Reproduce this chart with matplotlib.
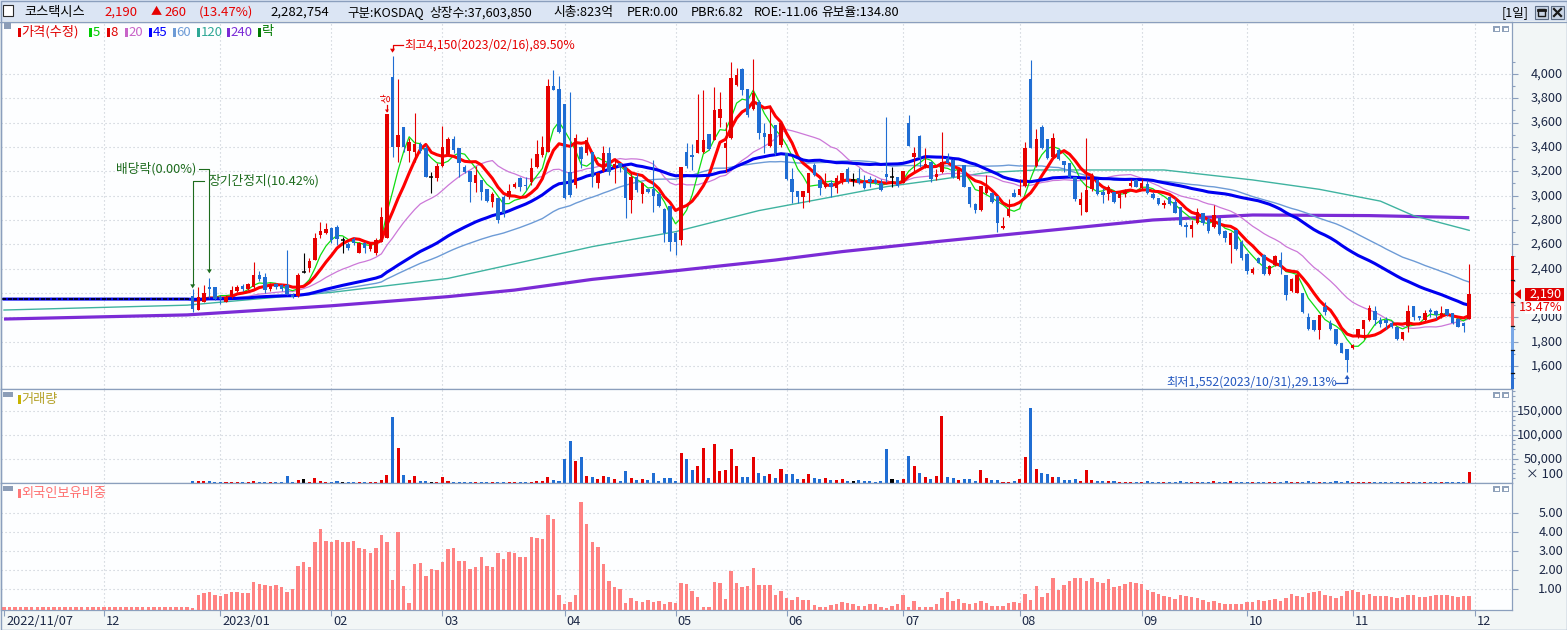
import numpy as np
import pandas as pd
import matplotlib
matplotlib.use('Agg')
import matplotlib.pyplot as plt
from matplotlib.patches import Rectangle, Polygon
import matplotlib.transforms as mtransforms

plt.rcParams['font.family'] = ['Noto Sans CJK KR', 'DejaVu Sans']
plt.rcParams['axes.unicode_minus'] = False

# ======================= DATA =======================
month_idx = [0, 18, 39, 59, 79, 101, 121, 141, 162, 183, 205, 224, 243, 265]
month_lbl = ['2022/11/07', '12', '2023/01', '02', '03', '04', '05', '06',
             '07', '08', '09', '10', '11', '12']

halt_days = 34          # trading suspended (flat dojis) before trading resumed
halt_price = 2150

trade_open = [
    2175, 2060, 2129, 2252, 2246, 2170, 2126, 2175, 2219, 2260,
    2230, 2246, 2345, 2329, 2230, 2274, 2263, 2263, 2186, 2175,
    2375, 2403, 2471, 2677, 2690, 2731, 2745, 2635, 2603, 2641,
    2526, 2608, 2559, 2526, 2622, 2649, 3978, 3400, 3562, 3370,
    3362, 3425, 3389, 3156, 3142, 3244, 3342, 3463, 3389, 3233,
    3205, 3101, 3129, 3055, 2945, 2978, 2992, 2992, 3074, 3142,
    3085, 3115, 3238, 3334, 3362, 3901, 3874, 3753, 3197, 3088,
    3397, 3348, 3362, 3101, 3205, 3348, 3225, 3266, 3238, 2964,
    3156, 3014, 3052, 3052, 3014, 2888, 2915, 2690, 2635, 3362,
    3334, 3348, 3362, 3504, 3458, 3636, 3389, 3471, 3907, 4038,
    3874, 3710, 3773, 3512, 3408, 3581, 3416, 3348, 3134, 3041,
    2992, 3025, 3252, 3129, 3074, 3107, 3060, 3129, 3216, 3129,
    3142, 3115, 3134, 3129, 3101, 3178, 3156, 3151, 3107, 3600,
    3315, 3490, 3233, 3279, 3156, 3197, 3307, 3293, 3134, 3252,
    3074, 2931, 2882, 3025, 3025, 2997, 2731, 2833, 3025, 3005,
    3079, 3956, 3244, 3567, 3463, 3315, 3375, 3288, 3266, 3156,
    2923, 2868, 3052, 3129, 3033, 3014, 3033, 2978, 3014, 3079,
    3129, 3060, 3096, 3014, 2978, 2923, 2986, 2951, 2904, 2759,
    2723, 2772, 2860, 2805, 2745, 2814, 2712, 2594, 2718, 2622,
    2520, 2367, 2485, 2512, 2356, 2430, 2471, 2348, 2219, 2202,
    2202, 2005, 1978, 1896, 2087, 1956, 1901, 1786, 1737, 1745,
    1835, 1901, 1978, 2055, 1978, 1978, 1956, 1923, 1819, 1928,
    2093, 2011, 1978, 2060, 2052, 2011, 2066, 2033, 1983, 1950,
    1983]

trade_high = [
    2230, 2252, 2266, 2320, 2250, 2183, 2183, 2260, 2266, 2274,
    2285, 2457, 2383, 2361, 2279, 2285, 2274, 2553, 2197, 2361,
    2526, 2485, 2696, 2786, 2778, 2745, 2759, 2663, 2622, 2657,
    2622, 2622, 2622, 2649, 2910, 3675, 4150, 3960, 3562, 3471,
    3682, 3444, 3416, 3197, 3266, 3573, 3485, 3490, 3389, 3252,
    3205, 3244, 3129, 3055, 3033, 2978, 3005, 3096, 3115, 3151,
    3156, 3307, 3458, 3490, 3956, 4033, 3984, 3753, 3855, 3507,
    3408, 3479, 3362, 3197, 3408, 3397, 3307, 3271, 3238, 3184,
    3184, 3115, 3060, 3293, 3033, 2896, 2915, 2704, 3233, 3430,
    3425, 3836, 3870, 3504, 3896, 3855, 3608, 4101, 4047, 4045,
    3874, 4125, 3786, 3594, 3745, 3581, 3608, 3348, 3225, 3041,
    3041, 3189, 3271, 3142, 3184, 3129, 3170, 3189, 3238, 3189,
    3225, 3170, 3162, 3142, 3134, 3644, 3238, 3156, 3205, 3663,
    3403, 3499, 3389, 3288, 3216, 3526, 3348, 3299, 3225, 3252,
    3074, 2942, 3079, 3170, 3033, 2997, 2827, 2970, 3052, 3134,
    3444, 4115, 3545, 3581, 3463, 3512, 3389, 3288, 3271, 3156,
    3033, 3471, 3184, 3134, 3060, 3088, 3033, 3033, 3052, 3134,
    3134, 3134, 3129, 3033, 2978, 2964, 2997, 2978, 2904, 2786,
    2800, 2896, 2860, 2827, 2923, 2814, 2718, 2704, 2718, 2635,
    2526, 2411, 2493, 2520, 2430, 2512, 2540, 2348, 2320, 2356,
    2202, 2038, 1978, 2019, 2129, 1978, 1901, 1791, 1737, 1780,
    1901, 1978, 2101, 2093, 2000, 2000, 1972, 1923, 1882, 2101,
    2093, 2011, 2060, 2074, 2060, 2093, 2066, 2033, 1991, 1964,
    2440]

trade_low = [
    2046, 2060, 2129, 2156, 2140, 2107, 2126, 2156, 2211, 2219,
    2225, 2240, 2301, 2203, 2219, 2230, 2219, 2183, 2156, 2170,
    2361, 2375, 2471, 2649, 2682, 2608, 2594, 2526, 2553, 2594,
    2526, 2526, 2548, 2512, 2622, 2649, 3320, 3280, 3362, 3279,
    3279, 3348, 3151, 3019, 3123, 3238, 3334, 3348, 3151, 3184,
    2951, 3033, 2964, 2951, 2910, 2778, 2827, 2970, 3060, 3041,
    3047, 3088, 3225, 3320, 3362, 3868, 3512, 2970, 2992, 3060,
    3225, 3334, 3074, 3060, 3197, 3170, 3101, 3197, 2814, 2855,
    3033, 2937, 3019, 2868, 2910, 2622, 2548, 2512, 2594, 3225,
    3211, 3348, 3348, 3375, 3458, 3562, 3197, 3463, 3901, 3827,
    3650, 3704, 3463, 3348, 3403, 3334, 3403, 3129, 2937, 2937,
    2896, 2951, 3162, 3005, 3060, 2992, 3025, 3096, 3107, 3079,
    3096, 3052, 3074, 3096, 3041, 3115, 3074, 3074, 3101, 3408,
    3205, 3233, 3225, 3115, 3129, 3184, 3266, 3142, 3129, 3068,
    2910, 2855, 2877, 3014, 2942, 2704, 2723, 2827, 2986, 2997,
    3074, 3389, 3238, 3381, 3299, 3307, 3293, 3197, 3142, 2959,
    2841, 2868, 3041, 3005, 2937, 2964, 2942, 2896, 2992, 3074,
    3068, 3052, 3014, 2970, 2923, 2896, 2923, 2855, 2750, 2657,
    2663, 2767, 2759, 2696, 2731, 2677, 2622, 2449, 2553, 2471,
    2356, 2356, 2444, 2348, 2348, 2422, 2356, 2142, 2211, 2197,
    2038, 1896, 1890, 1824, 2019, 1896, 1772, 1704, 1552, 1737,
    1827, 1819, 1972, 1937, 1923, 1901, 1909, 1813, 1813, 1882,
    1978, 1978, 1972, 2000, 1983, 1991, 2011, 1945, 1923, 1882,
    1983]

trade_close = [
    2071, 2170, 2197, 2230, 2148, 2148, 2170, 2225, 2246, 2230,
    2274, 2345, 2318, 2225, 2263, 2246, 2230, 2192, 2164, 2345,
    2375, 2466, 2649, 2712, 2723, 2635, 2644, 2635, 2567, 2608,
    2608, 2567, 2603, 2635, 2827, 3675, 3403, 3500, 3397, 3444,
    3425, 3370, 3151, 3156, 3247, 3397, 3463, 3375, 3271, 3197,
    3115, 3170, 3033, 2959, 3014, 2800, 2860, 3041, 3096, 3074,
    3079, 3225, 3342, 3397, 3901, 3868, 3526, 2978, 3005, 3471,
    3299, 3458, 3151, 3184, 3348, 3197, 3260, 3233, 2978, 3156,
    3047, 3101, 3033, 2997, 2918, 2690, 2616, 2622, 3233, 3244,
    3320, 3458, 3458, 3381, 3704, 3710, 3430, 3964, 3992, 3868,
    3663, 3847, 3512, 3485, 3507, 3348, 3600, 3134, 3033, 2986,
    3041, 3189, 3170, 3060, 3101, 3074, 3142, 3189, 3115, 3129,
    3101, 3060, 3115, 3101, 3047, 3156, 3156, 3079, 3205, 3408,
    3348, 3307, 3260, 3134, 3178, 3279, 3271, 3151, 3211, 3074,
    2931, 2882, 3079, 3068, 2951, 2778, 2750, 2888, 2992, 3052,
    3389, 3389, 3463, 3389, 3307, 3471, 3299, 3252, 3151, 2970,
    2970, 3047, 3162, 3014, 3005, 3074, 2951, 3014, 3041, 3107,
    3074, 3107, 3019, 2978, 2928, 2942, 2931, 2860, 2759, 2740,
    2759, 2868, 2772, 2712, 2841, 2685, 2649, 2696, 2559, 2485,
    2383, 2394, 2449, 2356, 2422, 2504, 2411, 2183, 2312, 2348,
    2046, 1901, 1896, 2019, 2046, 1901, 1780, 1709, 1649, 1772,
    1901, 1978, 2074, 1978, 1945, 1956, 1923, 1819, 1882, 2055,
    2000, 1991, 2038, 2046, 2019, 2033, 2019, 1950, 1923, 1930,
    2190]

# volume in units of 100 shares (axis shows "x 100")
trade_volume = [
    4800, 4800, 4800, 4800, 2800, 2800, 2800, 2800, 2800, 2800,
    2800, 4800, 2800, 2800, 2800, 2800, 2800, 15200, 2800, 6900,
    9000, 2800, 11000, 4800, 2800, 2800, 4800, 2800, 2800, 2800,
    2800, 2800, 2800, 2800, 6900, 17300, 137600, 73300, 17300, 6900,
    15200, 4400, 4800, 2800, 2800, 13100, 4800, 2800, 2800, 2800,
    2800, 2800, 2800, 2800, 2800, 2100, 2100, 2100, 2100, 2100,
    2100, 2100, 4800, 4800, 13100, 6900, 4800, 50500, 87800, 46300,
    54600, 15200, 13100, 9000, 15200, 13100, 9000, 4800, 25600, 11100,
    6900, 9000, 6900, 21400, 4800, 11100, 11100, 4800, 62900, 50500,
    27700, 36000, 73300, 11100, 81600, 25600, 27700, 71200, 36000, 13100,
    13100, 54600, 21400, 15200, 19300, 11100, 29700, 19300, 19300, 9000,
    9000, 19300, 11100, 9000, 11100, 6900, 6900, 9000, 4800, 4800,
    6900, 4800, 4800, 2800, 4800, 71200, 9000, 6900, 9000, 56700,
    36000, 21400, 13100, 9000, 15200, 139700, 13100, 11100, 6900, 9000,
    9000, 4800, 27700, 11100, 6900, 6900, 2100, 2100, 4800, 9000,
    54600, 156300, 29700, 21400, 19300, 13100, 13100, 6900, 6900, 9000,
    4800, 27700, 6900, 4800, 4800, 4800, 4800, 2100, 2100, 2100,
    2100, 2100, 4800, 2100, 2100, 2100, 2100, 2100, 4800, 2100,
    2100, 2100, 2100, 2100, 4800, 2100, 2100, 4800, 2100, 2100,
    2100, 2100, 2100, 2100, 2100, 2100, 2100, 4800, 2100, 2100,
    2100, 4800, 2100, 2100, 2100, 2100, 4800, 2100, 4800, 2100,
    2100, 2100, 2100, 2100, 2100, 2100, 2100, 2100, 2100, 2100,
    2100, 2100, 2100, 2100, 2100, 2100, 2100, 2100, 2100, 2100,
    23500]

# foreign ownership ratio (%), every bar including the suspension period
foreign_halt = 0.07
foreign_trade = [
    0.03, 0.70, 0.82, 0.87, 0.70, 0.65,
    0.75, 0.87, 0.87, 0.82, 0.82, 1.38, 1.28, 1.23, 1.17, 1.23,
    1.12, 0.87, 1.02, 2.23, 2.44, 2.17, 3.49, 4.17, 3.54, 3.49,
    3.59, 3.49, 3.49, 3.54, 3.17, 3.12, 2.91, 3.17, 3.85, 3.49,
    1.49, 4.01, 1.17, 0.28, 2.33, 2.38, 1.70, 2.07, 2.01, 2.44,
    3.12, 3.17, 2.49, 2.49, 2.07, 2.17, 2.70, 2.23, 2.17, 2.91,
    2.59, 2.96, 2.91, 2.70, 2.70, 3.75, 3.70, 3.65, 4.91, 4.70,
    0.70, 0.23, 0.33, 0.70, 5.60, 4.44, 3.49, 3.23, 2.33, 1.44,
    1.12, 1.02, 0.28, 0.54, 0.38, 0.33, 0.44, 0.33, 0.38, 0.23,
    0.33, 0.28, 1.33, 1.28, 0.91, 0.60, 0.07, 0.07, 1.38, 1.33,
    0.49, 1.96, 1.33, 1.12, 1.17, 2.12, 1.23, 1.23, 1.23, 0.70,
    0.91, 0.54, 0.44, 0.60, 0.44, 0.44, 0.18, 0.07, 0.07, 0.18,
    0.23, 0.33, 0.28, 0.23, 0.12, 0.12, 0.23, 0.23, 0.07, 0.02,
    0.12, 0.23, 0.70, 0.07, 0.38, 0.07, 0.07, 0.07, 0.23, 0.54,
    0.86, 0.38, 0.49, 0.28, 0.23, 0.28, 0.38, 0.28, 0.12, 0.12,
    0.12, 0.28, 0.33, 0.28, 0.75, 0.44, 1.17, 0.60, 0.81, 1.60,
    0.96, 1.23, 1.44, 1.60, 1.60, 1.44, 1.60, 1.38, 1.33, 1.54,
    1.12, 1.17, 1.28, 1.38, 1.33, 1.28, 0.96, 0.86, 0.75, 0.65,
    0.60, 0.49, 0.70, 0.65, 0.60, 0.54, 0.44, 0.33, 0.38, 0.28,
    0.23, 0.23, 0.23, 0.23, 0.33, 0.33, 0.44, 0.38, 0.44, 0.49,
    0.38, 0.54, 0.75, 0.65, 0.60, 0.81, 0.86, 0.91, 0.70, 0.65,
    0.54, 0.65, 0.91, 0.96, 0.86, 0.70, 0.75, 0.65, 0.65, 0.65,
    0.60, 0.54, 0.60, 0.70, 0.70, 0.60, 0.60, 0.65, 0.70, 0.70,
    0.70, 0.65, 0.60, 0.65, 0.65]

# long moving averages (bar index -> value)
ma120_idx = [0, 33, 59, 80, 92, 106, 121, 136, 151, 159, 168, 177, 186, 209,
             225, 237, 248, 254, 264]
ma120_val = [2060, 2100, 2205, 2320, 2440, 2581, 2704, 2877, 3005, 3074, 3129,
             3189, 3211, 3211, 3129, 3052, 2955, 2835, 2715]
ma240_idx = [0, 33, 59, 80, 92, 106, 121, 139, 151, 168, 186, 207, 225, 246, 264]
ma240_val = [1986, 2020, 2095, 2170, 2224, 2312, 2383, 2471, 2540, 2622, 2704,
             2800, 2841, 2836, 2819]

# price band strip on the right edge of the price axis
band_edges = [2504, 2128, 1929, 1731, 1411]
band_colors = ['#e20000', '#f06868', '#7aa8e6', '#2c70d2']
band_ticks = [2307, 2128, 1929, 1731, 1542]

price_ticks = list(range(1600, 4001, 200))
price_minor = list(range(1500, 4101, 100))
vol_ticks = [50000, 100000, 150000]
foreign_ticks = [1, 2, 3, 4, 5]

high_label = '최고4,150(2023/02/16),89.50%'
low_label = '최저1,552(2023/10/31),29.13%'
high_bar, limit_bar, low_bar = 70, 69, 242
ex_div_bar, resume_bar = 37, 34

# ======================= ARRAYS =======================
opn = np.array([halt_price] * halt_days + trade_open, float)
hig = np.array([halt_price] * halt_days + trade_high, float)
low = np.array([halt_price] * halt_days + trade_low, float)
cls = np.array([halt_price] * halt_days + trade_close, float)
vol = np.array([0] * halt_days + trade_volume, float)
frn = np.array([foreign_halt] * halt_days + foreign_trade, float)
n = len(cls)
idx = np.arange(n)

C_UP = '#e60000'
C_DN = '#1f6dd3'
BORDER = '#8b9fbd'
GRID = '#c3c9d2'
TXT = '#1c2846'

up = cls > opn
dn = cls < opn
fl = ~(up | dn)
ccol = np.where(up, C_UP, np.where(dn, C_DN, '#000000'))

s = pd.Series(cls)
ma5 = s.rolling(5).mean().to_numpy()
ma8 = s.rolling(8).mean().to_numpy()
ma20 = s.rolling(20).mean().to_numpy()
ma45 = s.rolling(45, min_periods=1).mean().to_numpy()
ma60 = s.rolling(60, min_periods=1).mean().to_numpy()
for m in (ma5, ma8, ma20):
    m[:halt_days] = np.nan

# ======================= FIGURE =======================
W, H, DPI = 1567, 630, 100
fig = plt.figure(figsize=(W / DPI, H / DPI), dpi=DPI)
fig.patch.set_facecolor('#f2f6f6')

X0_PX, BAR_PX = 4.0, 5.55
AX_L, AX_R = 1, 1512


def rect(top, bottom):
    return [AX_L / W, 1 - bottom / H, (AX_R - AX_L) / W, (bottom - top) / H]


ax1 = fig.add_axes(rect(22, 389))
ax2 = fig.add_axes(rect(389, 483))
ax3 = fig.add_axes(rect(483, 610))

xlo = (AX_L - X0_PX) / BAR_PX
xhi = (AX_R - X0_PX) / BAR_PX
F_LO = -0.09

ax1.set_ylim(1411, 4427)
ax2.set_ylim(0, 195000)
ax3.set_ylim(F_LO, 6.6)

for ax in (ax1, ax2, ax3):
    ax.set_xlim(xlo, xhi)
    ax.set_facecolor('#fdfeff')
    for sp in ax.spines.values():
        sp.set_color(BORDER)
        sp.set_linewidth(0.9)
    ax.yaxis.set_ticks_position('right')
    ax.tick_params(axis='y', which='both', direction='out', color=BORDER,
                   labelright=False, labelleft=False, width=0.8)
    ax.tick_params(axis='y', which='major', length=4)
    ax.tick_params(axis='y', which='minor', length=2.5)
    for m in month_idx[1:]:
        ax.axvline(m, color=GRID, lw=0.8, ls=(0, (1, 2.6)), zorder=0)

for ax in (ax1, ax2):
    ax.tick_params(axis='x', which='both', bottom=False, labelbottom=False)
ax3.set_xticks(month_idx)
ax3.tick_params(axis='x', direction='out', length=4.5, width=0.8, color=BORDER,
                labelbottom=False)

# --- price panel ---
ax1.set_yticks(price_ticks)
ax1.set_yticks(price_minor, minor=True)
for p in price_ticks:
    ax1.axhline(p, color=GRID, lw=0.8, ls=(0, (1, 2.6)), zorder=0)

ax1.plot(ma240_idx, ma240_val, color='#7b2bd6', lw=2.3, zorder=2,
         solid_capstyle='butt')
ax1.plot(ma120_idx, ma120_val, color='#3fb3a0', lw=1.0, zorder=2)
ax1.plot(idx, ma60, color='#6d9bd6', lw=1.0, zorder=2)
ax1.plot(idx, ma20, color='#cc78d8', lw=0.9, zorder=2)
ax1.plot(idx, ma5, color='#10dd10', lw=0.9, zorder=2)
ax1.plot(idx, ma8, color='#ff0000', lw=2.2, zorder=2)
ax1.plot(idx, ma45, color='#0000f0', lw=2.2, zorder=2)

ax1.vlines(idx, low, hig, colors=ccol, lw=0.8, zorder=4)
nf = ~fl
ax1.bar(idx[nf], np.abs(cls - opn)[nf], bottom=np.minimum(cls, opn)[nf],
        width=0.62, color=ccol[nf], linewidth=0, zorder=5)
ax1.hlines(cls[fl], idx[fl] - 0.36, idx[fl] + 0.36, colors='#000000', lw=1.1,
           zorder=5)

# --- volume panel ---
ax2.set_yticks(vol_ticks)
ax2.set_yticks(list(range(10000, 190001, 10000)), minor=True)
for v in vol_ticks:
    ax2.axhline(v, color=GRID, lw=0.8, ls=(0, (1, 2.6)), zorder=0)
ax2.bar(idx, vol, width=0.55, color=ccol, linewidth=0, zorder=3)

# --- foreign ratio panel ---
ax3.set_yticks(foreign_ticks)
for v in foreign_ticks:
    ax3.axhline(v, color=GRID, lw=0.8, ls=(0, (1, 2.6)), zorder=0)
ax3.bar(idx, frn - F_LO, bottom=F_LO, width=0.62, color='#ff8282', linewidth=0,
        zorder=3)

# right-hand labels
LBL_X = (1563 - AX_L) / (AX_R - AX_L)
for ax, ticks, fmt in ((ax1, price_ticks, '{:,.0f}'),
                       (ax2, vol_ticks, '{:,.0f}'),
                       (ax3, foreign_ticks, '{:.2f}')):
    tr = mtransforms.blended_transform_factory(ax.transAxes, ax.transData)
    for v in ticks:
        ax.text(LBL_X, v, fmt.format(v), transform=tr, ha='right', va='center',
                fontsize=9.2, color=TXT, clip_on=False)

# ======================= OVERLAY (pixel space) =======================
ov = fig.add_axes([0, 0, 1, 1], zorder=30)
ov.set_xlim(0, W)
ov.set_ylim(H, 0)
ov.axis('off')


def d2p(ax, x, y):
    dx, dy = ax.transData.transform((x, y))
    return dx, H - dy


# title bar
ov.add_patch(Rectangle((0, 0), W, 21, fc='#dbe5f4', ec='none'))
ov.plot([0, W], [21.5, 21.5], color=BORDER, lw=0.9)
ov.add_patch(Rectangle((0.5, 0.5), W - 1, H - 1, fill=False, ec=BORDER, lw=1))
ov.add_patch(Rectangle((3, 5), 10, 11, fc='white', ec='#2a2a2a', lw=0.8))

chg = cls[-1] - cls[-2]
pct = chg / cls[-2] * 100
TY = 12.5
title_parts = [
    (24, '코스택시스', '#000000', 9.5),
    (104, f'{cls[-1]:,.0f}', C_UP, 9.5),
    (151, '▲', C_UP, 8),
    (164, f'{chg:,.0f}', C_UP, 9.5),
    (199, f'({pct:.2f}%)', C_UP, 9.5),
    (270, '2,282,754', '#000000', 9.5),
    (347, '구분:KOSDAQ', '#000000', 9),
    (429, '상장수:37,603,850', '#000000', 9.2),
    (553, '시총:823억', '#000000', 9.2),
    (627, 'PER:0.00', '#000000', 9.2),
    (691, 'PBR:6.82', '#000000', 9.2),
    (754, 'ROE:-11.06', '#000000', 9.2),
    (821, '유보율:134.80', '#000000', 9.2),
]
for x, t, c, fs in title_parts:
    ov.text(x, TY, t, color=c, fontsize=fs, ha='left', va='center')
ov.text(1502, TY, '[1일]', color='#000000', fontsize=9, ha='left', va='center')
for bx in (1535, 1551):
    ov.add_patch(Rectangle((bx, 6), 13, 13, fc='#c9d5e6', ec='#5c6c84', lw=0.8))
ov.add_patch(Rectangle((1538, 9), 7, 7, fc='none', ec='#1a1a1a', lw=1.0))
ov.plot([1538, 1545], [9.5, 9.5], color='#1a1a1a', lw=2)
ov.plot([1554, 1561], [9, 16], color='#1a1a1a', lw=1.6)
ov.plot([1554, 1561], [16, 9], color='#1a1a1a', lw=1.6)

# panel corner icons
for py in (26, 392, 486):
    for bx in (1493, 1502):
        ov.add_patch(Rectangle((bx, py), 7, 6, fc='#8fa1ba', ec='none'))
        ov.add_patch(Rectangle((bx + 1.5, py + 1.5), 4, 3, fc='white', ec='none'))
ov.add_patch(Rectangle((4, 23), 7, 6, fc='#8c9db7', ec='none'))
ov.add_patch(Rectangle((3, 392), 10, 5, fc='#8c9db7', ec='none'))
ov.add_patch(Rectangle((3, 486), 10, 5, fc='#8c9db7', ec='none'))

# legend row
legend_items = [
    (18, '가격(수정)', '#e00000'), (89, '5', '#00cc00'), (107, '8', '#e00000'),
    (125, '20', '#c864c8'), (149, '45', '#0000ff'), (173, '60', '#6d9bd6'),
    (197, '120', '#2fa896'), (227, '240', '#7b2bd6'), (258, '락', '#007a00'),
]
for x, t, c in legend_items:
    ov.add_patch(Rectangle((x, 27.5), 2.5, 9, fc=c, ec='none'))
    ov.text(x + 3.5, 32, t, color=c, fontsize=9.5, ha='left', va='center')

ov.add_patch(Rectangle((18, 395), 2.5, 9, fc='#c8b400', ec='none'))
ov.text(21.5, 400, '거래량', color='#b5a22a', fontsize=9.5, ha='left',
        va='center')
ov.add_patch(Rectangle((18, 489), 2.5, 9, fc='#ff7878', ec='none'))
ov.text(21.5, 494, '외국인보유비중', color='#ff7070', fontsize=9.5, ha='left',
        va='center')

# volume unit label
ov.text(1563, 474, '× 100', color=TXT, fontsize=9.2, ha='right', va='center')

# x axis labels
for m, lbl in zip(month_idx, month_lbl):
    px, _ = d2p(ax3, m, 0)
    ov.text(px + 2, 621.5, lbl, color=TXT, fontsize=9.2, ha='left', va='center')

# --- annotations ---
# all-time high
hx, hy = d2p(ax1, high_bar, hig[high_bar])
ov.plot([hx + 10, hx, hx], [44.5, 44.5, hy - 6], color=C_UP, lw=0.9)
ov.add_patch(Polygon([(hx - 2.5, hy - 7), (hx + 2.5, hy - 7), (hx, hy - 3)],
                     fc=C_UP, ec='none'))
ov.text(hx + 12, 45.5, high_label, color=C_UP, fontsize=8.8, ha='left',
        va='center')

# upper-limit mark
lx, ly = d2p(ax1, limit_bar, hig[limit_bar])
ov.text(lx - 0.5, ly - 15, '상', color=C_UP, fontsize=7.5, rotation=90,
        ha='center', va='center')
ov.plot([lx, lx], [ly - 9, ly - 3], color=C_UP, lw=0.9)
ov.add_patch(Polygon([(lx - 2, ly - 4), (lx + 2, ly - 4), (lx, ly - 1)],
                     fc=C_UP, ec='none'))

# ex-dividend / long suspension markers
GRN = '#1d6b1d'
ex_x, ex_y = d2p(ax1, ex_div_bar, hig[ex_div_bar])
ov.text(196, 169, '배당락(0.00%)', color=GRN, fontsize=9.2, ha='right',
        va='center')
ov.plot([199, ex_x, ex_x], [169, 169, ex_y - 8], color=GRN, lw=0.8)
ov.add_patch(Polygon([(ex_x - 2.5, ex_y - 9), (ex_x + 2.5, ex_y - 9),
                      (ex_x, ex_y - 5)], fc=GRN, ec='none'))
rs_x, rs_y = d2p(ax1, resume_bar, hig[resume_bar])
ov.text(208, 181, '장기간정지(10.42%)', color=GRN, fontsize=9.2, ha='left',
        va='center')
ov.plot([204, rs_x, rs_x], [181, 181, rs_y - 4], color=GRN, lw=0.8)
ov.add_patch(Polygon([(rs_x - 2.5, rs_y - 5), (rs_x + 2.5, rs_y - 5),
                      (rs_x, rs_y - 1)], fc=GRN, ec='none'))

# all-period low
C_LOWTXT = '#2458c0'
wx, wy = d2p(ax1, low_bar, low[low_bar])
ov.text(1166, 382.5, low_label, color=C_LOWTXT, fontsize=8.8, ha='left',
        va='center')
ov.plot([1336, wx, wx], [383, 383, wy + 6], color=C_LOWTXT, lw=0.9)
ov.add_patch(Polygon([(wx - 2.5, wy + 7), (wx + 2.5, wy + 7), (wx, wy + 3)],
                     fc=C_LOWTXT, ec='none'))

# right-edge price band
for top, bot, c in zip(band_edges[:-1], band_edges[1:], band_colors):
    _, yt = d2p(ax1, 0, top)
    _, yb = d2p(ax1, 0, bot)
    ov.add_patch(Rectangle((1510.5, yt), 3.5, yb - yt, fc=c, ec='none'))
for t in band_ticks:
    _, yt = d2p(ax1, 0, t)
    ov.plot([1510.5, 1514], [yt, yt], color='#101010', lw=0.9)

# current price box
_, cy = d2p(ax1, 0, cls[-1])
ov.add_patch(Polygon([(1514.5, cy), (1521, cy - 5), (1521, cy + 5)], fc=C_UP,
                     ec='none'))
ov.add_patch(Rectangle((1525, cy - 6.5), 39, 13, fc='#e00000', ec='none'))
ov.text(1562, cy, f'{cls[-1]:,.0f}', color='white', fontsize=9.2, ha='right',
        va='center')
ov.add_patch(Rectangle((1525, cy + 7.5), 39, 12.5, fc='white', ec='none'))
ov.text(1562, cy + 13.5, f'{pct:.2f}%', color=C_UP, fontsize=9.2, ha='right',
        va='center')

fig.savefig('out.png', dpi=DPI, facecolor=fig.get_facecolor())
